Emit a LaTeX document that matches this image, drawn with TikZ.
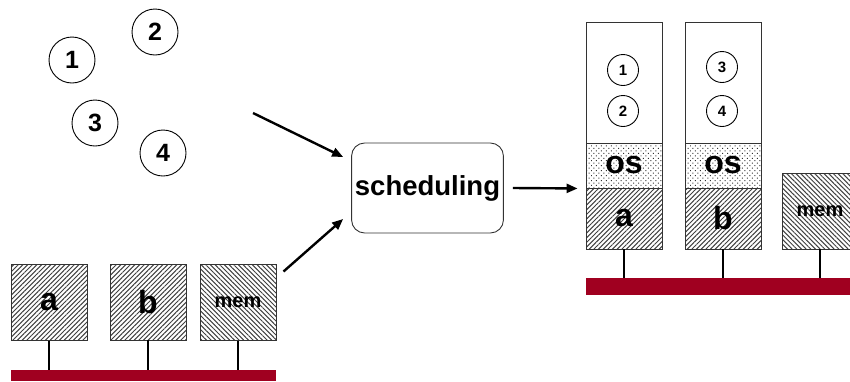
\documentclass[tikz,border=0pt]{standalone}
\usepackage{fontspec}
\setmainfont{Liberation Sans}
\usetikzlibrary{patterns.meta,arrows.meta}
\definecolor{busred}{RGB}{160,0,32}
\tikzset{
  unit/.style={draw=black!80,line width=0.9pt,inner sep=0pt,minimum width=76pt,
    font=\bfseries\fontsize{32}{32}\selectfont},
  cpu/.style={unit,pattern={Lines[angle=45,distance=3.3pt,line width=1pt]},pattern color=black!75},
  memory/.style={unit,pattern={Lines[angle=-45,distance=3.3pt,line width=1pt]},pattern color=black!75,
    font=\bfseries\fontsize{20}{20}\selectfont},
  osbox/.style={unit,pattern={Dots[distance=3.5pt,angle=45,radius=0.7pt]},pattern color=black!80},
  slot/.style={unit,fill=white},
  bus/.style={fill=busred,draw=none,inner sep=0pt},
  stub/.style={line width=2.6pt},
  task/.style={circle,draw,line width=0.9pt,inner sep=0pt,minimum size=46pt,
    font=\bfseries\fontsize{25}{25}\selectfont},
  smalltask/.style={task,minimum size=31pt,font=\bfseries\fontsize{15}{15}\selectfont},
  flow/.style={line width=2.4pt,-{Triangle[length=11pt,width=9pt]}},
}
\begin{document}
\begin{tikzpicture}[x=1pt,y=-1pt]
\useasboundingbox (0,0) rectangle (850,381);
\clip (0,0) rectangle (850,381);

% tasks waiting to be placed
\node[task] (t1) at (72,60) {1};
\node[task] (t2) at (155,32) {2};
\node[task] (t3) at (95,123) {3};
\node[task] (t4) at (163,153) {4};

% bare machine: two processors and memory on a bus
\node[cpu,minimum height=76pt] (la) at (49,302) {a};
\node[cpu,minimum height=76pt] (lb) at (148,302) {b};
\node[memory,minimum height=76pt] (lm) at (238,302) {mem};
\node[bus,minimum width=265pt,minimum height=11pt] (lbus) at (143.5,375.5) {};
\foreach \u in {la,lb,lm}
  \draw[stub] (\u.south) -- (\u.south |- lbus.north);

% scheduler
\node[draw=black!80,line width=0.9pt,rounded corners=13pt,minimum width=151pt,minimum height=90pt,
  font=\bfseries\fontsize{27.5}{27.5}\selectfont] (sched) at (427.5,188) {scheduling};

\coordinate (tin) at (253,113);
\draw[flow] (tin) -- ([shift={(-8,-31)}]sched.west);
\draw[flow] ([shift={(7,8)}]lm.north east) -- ([shift={(-8,31)}]sched.west);

% scheduled machine
\node[slot,minimum height=121pt] (ta) at (624,82.5) {};
\node[osbox,minimum height=45pt] (oa) at (624,165.5) {os};
\node[cpu,minimum height=61pt] (ra) at (624,218.5) {a};
\node[slot,minimum height=121pt] (tb) at (723,82.5) {};
\node[osbox,minimum height=45pt] (ob) at (723,165.5) {os};
\node[cpu,minimum height=61pt] (rb) at (723,218.5) {b};
\node[memory,minimum height=76pt] (rm) at (820,211) {mem};
\node[bus,minimum width=272pt,minimum height=17pt] (rbus) at (722,286.5) {};
\foreach \u in {ra,rb,rm}
  \draw[stub] (\u.south) -- (\u.south |- rbus.north);

\node[smalltask] (s1) at (623,70) {1};
\node[smalltask] (s2) at (623,111) {2};
\node[smalltask] (s3) at (722,67) {3};
\node[smalltask] (s4) at (722,111) {4};

\draw[flow] ([xshift=9pt]sched.east) -- ([xshift=-8pt]oa.south west);
\end{tikzpicture}
\end{document}
